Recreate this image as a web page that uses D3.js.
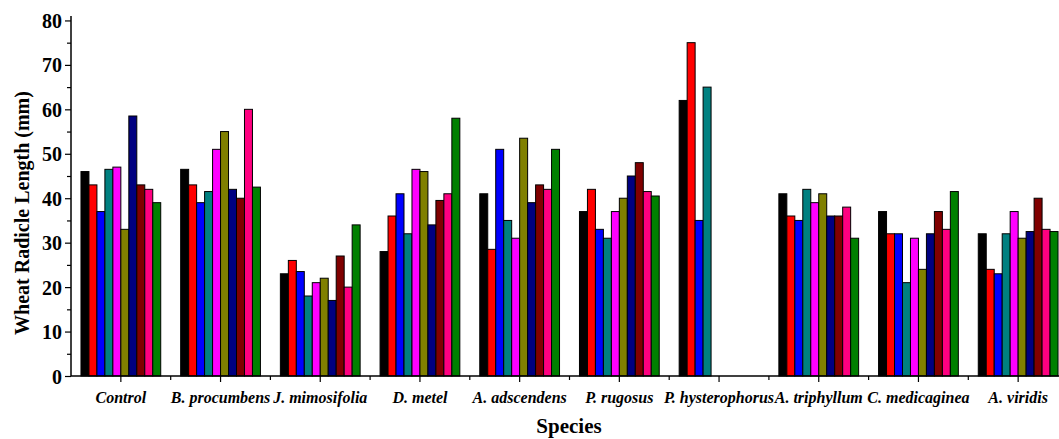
<!DOCTYPE html>
<html>
<head>
<meta charset="utf-8">
<script src="https://cdn.jsdelivr.net/npm/d3@7"></script>
<style>
  html, body { margin: 0; padding: 0; background: #fff; }
  svg { display: block; overflow: hidden; }
  .tick-label { font-family: "Liberation Serif", "Times New Roman", serif; font-weight: bold; }
</style>
</head>
<body>
<div id="chart"></div>
<script>
// species on the x axis
const species = ['Control', 'B. procumbens', 'J. mimosifolia', 'D. metel', 'A. adscendens',
  'P. rugosus', 'P. hysterophorus', 'A. triphyllum', 'C. medicaginea', 'A. viridis'];

// radicle length (mm) of the ten bars in each group
const control        = [46, 43, 37, 46.5, 47, 33, 58.5, 43, 42, 39];
const bProcumbens    = [46.5, 43, 39, 41.5, 51, 55, 42, 40, 60, 42.5];
const jMimosifolia   = [23, 26, 23.5, 18, 21, 22, 17, 27, 20, 34];
const dMetel         = [28, 36, 41, 32, 46.5, 46, 34, 39.5, 41, 58];
const aAdscendens    = [41, 28.5, 51, 35, 31, 53.5, 39, 43, 42, 51];
const pRugosus       = [37, 42, 33, 31, 37, 40, 45, 48, 41.5, 40.5];
const pHysterophorus = [62, 75, 35, 65, null, null, null, null, null, null];
const aTriphyllum    = [41, 36, 35, 42, 39, 41, 36, 36, 38, 31];
const cMedicaginea   = [37, 32, 32, 21, 31, 24, 32, 37, 33, 41.5];
const aViridis       = [32, 24, 23, 32, 37, 31, 32.5, 40, 33, 32.5];

const groupValues = [control, bProcumbens, jMimosifolia, dMetel, aAdscendens,
  pRugosus, pHysterophorus, aTriphyllum, cMedicaginea, aViridis];

const yTicks = [0, 10, 20, 30, 40, 50, 60, 70, 80];

const barColors = ['#000000', '#ff0000', '#0000ff', '#008080', '#ff00ff',
  '#808000', '#000080', '#800000', '#ff0080', '#008000'];

class GroupedBarChart {
  constructor(_config) {
    this.config = {
      parentElement: _config.parentElement,
      containerWidth: _config.containerWidth || 1059,
      containerHeight: _config.containerHeight || 439,
      margin: _config.margin || { top: 16, right: -9, bottom: 63, left: 71 }
    };
    this.initVis();
  }

  initVis() {
    const vis = this;
    const m = vis.config.margin;
    vis.width = vis.config.containerWidth - m.left - m.right;
    vis.height = vis.config.containerHeight - m.top - m.bottom;

    vis.svg = d3.select(vis.config.parentElement)
      .append('svg')
      .attr('width', vis.config.containerWidth)
      .attr('height', vis.config.containerHeight);

    vis.chart = vis.svg.append('g')
      .attr('transform', `translate(${m.left},${m.top})`);

    vis.x = d3.scaleBand()
      .domain(species)
      .range([0, vis.width]);

    vis.xInner = d3.scaleBand()
      .domain(d3.range(barColors.length))
      .range([vis.x.bandwidth() * 0.1, vis.x.bandwidth() * 0.9]);

    vis.y = d3.scaleLinear()
      .domain([0, 81])
      .range([vis.height, 0]);

    vis.renderVis();
  }

  renderVis() {
    const vis = this;

    const groups = vis.chart.selectAll('.group')
      .data(species.map((s, i) => ({ name: s, values: groupValues[i] })))
      .join('g')
      .attr('class', 'group')
      .attr('transform', d => `translate(${vis.x(d.name)},0)`);

    groups.selectAll('rect')
      .data(d => d.values.map((v, j) => ({ v, j })).filter(d => d.v !== null))
      .join('rect')
      .attr('x', d => vis.xInner(d.j))
      .attr('width', vis.xInner.bandwidth())
      .attr('y', d => vis.y(d.v))
      .attr('height', d => vis.y(0) - vis.y(d.v))
      .attr('fill', d => barColors[d.j])
      .attr('stroke', '#000')
      .attr('stroke-width', 1);

    // y axis: major + minor ticks
    const yAxis = vis.chart.append('g')
      .call(d3.axisLeft(vis.y).tickValues(yTicks).tickSize(6).tickPadding(3))
      .call(g => g.select('.domain').attr('stroke-width', 1.5)
        .attr('d', `M0,${vis.y(81)}V${vis.y(0)}`));
    yAxis.selectAll('.tick line').attr('stroke-width', 1.2);
    yAxis.selectAll('.tick text')
      .attr('class', 'tick-label')
      .attr('font-size', 20)
      .attr('dy', '0.35em');

    vis.chart.append('g')
      .call(d3.axisLeft(vis.y).tickValues(yTicks.slice(0, -1).map(t => t + 5)).tickSize(4).tickFormat(''))
      .call(g => g.select('.domain').remove())
      .selectAll('.tick line').attr('stroke-width', 1.2);

    // x axis: ticks at centres, minor ticks at band edges
    const xAxis = vis.chart.append('g')
      .attr('transform', `translate(0,${vis.height})`)
      .call(d3.axisBottom(vis.x).tickSize(6).tickPadding(10))
      .call(g => g.select('.domain').attr('stroke-width', 1.5)
        .attr('d', `M0,0H${vis.width}`));
    xAxis.selectAll('.tick line').attr('stroke-width', 1.2);
    xAxis.selectAll('.tick text')
      .attr('class', 'tick-label')
      .attr('font-size', 16)
      .attr('font-style', 'italic');

    vis.chart.append('g')
      .attr('transform', `translate(0,${vis.height})`)
      .selectAll('line')
      .data(species.slice(1))
      .join('line')
      .attr('x1', d => vis.x(d))
      .attr('x2', d => vis.x(d))
      .attr('y1', 0)
      .attr('y2', 4)
      .attr('stroke', '#000')
      .attr('stroke-width', 1.2);

    vis.svg.append('text')
      .attr('x', 569)
      .attr('y', 433)
      .attr('text-anchor', 'middle')
      .attr('class', 'tick-label')
      .attr('font-size', 21)
      .text('Species');

    vis.svg.append('text')
      .attr('transform', 'translate(29,213) rotate(-90)')
      .attr('text-anchor', 'middle')
      .attr('class', 'tick-label')
      .attr('font-size', 20)
      .text('Wheat Radicle Length (mm)');
  }
}

new GroupedBarChart({ parentElement: '#chart' });
</script>
</body>
</html>
